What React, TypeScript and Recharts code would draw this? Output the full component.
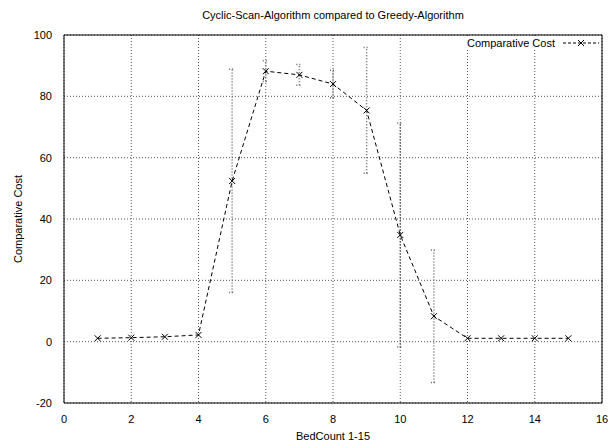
import {
  CartesianGrid,
  ErrorBar,
  Line,
  LineChart,
  ReferenceArea,
  XAxis,
  YAxis,
} from "recharts";

const bedCount = [1, 2, 3, 4, 5, 6, 7, 8, 9, 10, 11, 12, 13, 14, 15];
const comparativeCost = [1.1, 1.3, 1.6, 2.2, 52.4, 88.2, 87.0, 84.0, 75.4, 34.8, 8.3, 1.1, 1.1, 1.1, 1.1];
const costError = [0, 0, 0, 0, 36.4, 3.4, 3.4, 4.5, 20.5, 36.5, 21.6, 0, 0, 0, 0];
const xTicks = [0, 2, 4, 6, 8, 10, 12, 14, 16];
const yTicks = [-20, 0, 20, 40, 60, 80, 100];

const data = bedCount.map((b, i) => ({ bed: b, cost: comparativeCost[i], err: costError[i] }));

const FONT = "'Liberation Sans', Arial, Helvetica, sans-serif";

function Cross(props: any) {
  const { cx, cy } = props;
  if (cx == null || cy == null) return null;
  const s = 3;
  return (
    <g stroke="#000" strokeWidth={1}>
      <line x1={cx - s} y1={cy - s} x2={cx + s} y2={cy + s} />
      <line x1={cx - s} y1={cy + s} x2={cx + s} y2={cy - s} />
    </g>
  );
}

function KeyBox() {
  return (
    <div
      style={{
        position: "absolute",
        top: 37,
        right: 12,
        display: "flex",
        alignItems: "center",
        fontFamily: FONT,
        fontSize: 11,
        color: "#000",
        background: "#fff",
        zIndex: 2,
      }}
    >
      <span>Comparative Cost</span>
      <svg width={36} height={10} style={{ marginLeft: 8 }}>
        <line x1={0} y1={5} x2={36} y2={5} stroke="#000" strokeDasharray="3 2" />
        <line x1={15} y1={2} x2={21} y2={8} stroke="#000" />
        <line x1={15} y1={8} x2={21} y2={2} stroke="#000" />
      </svg>
    </div>
  );
}

export default function App() {
  return (
    <div style={{ position: "absolute", left: 0, top: 0, width: 611, height: 443, background: "#fff" }}>
      <div
        style={{
          position: "absolute",
          top: 9,
          left: 64,
          width: 538,
          textAlign: "center",
          fontFamily: FONT,
          fontSize: 11,
          color: "#000",
        }}
      >
        Cyclic-Scan-Algorithm compared to Greedy-Algorithm
      </div>
      <KeyBox />
      <LineChart
        width={611}
        height={443}
        data={data}
        margin={{ top: 35, right: 9, bottom: 0, left: 0 }}
        style={{ fontFamily: FONT }}
      >
        <CartesianGrid stroke="#555" strokeDasharray="1 2" />
        <XAxis
          dataKey="bed"
          type="number"
          domain={[0, 16]}
          ticks={xTicks}
          height={40}
          axisLine={false}
          tickLine={false}
          tick={{ fill: "#000", fontSize: 11 }}
          tickMargin={6}
          label={{ value: "BedCount 1-15", position: "insideBottom", offset: 3, fill: "#000", fontSize: 11 }}
        />
        <YAxis
          type="number"
          domain={[-20, 100]}
          ticks={yTicks}
          width={64}
          axisLine={false}
          tickLine={false}
          tick={{ fill: "#000", fontSize: 11 }}
          tickMargin={6}
          label={{
            value: "Comparative Cost",
            angle: -90,
            position: "insideLeft",
            offset: 18,
            style: { textAnchor: "middle" },
            fill: "#000",
            fontSize: 11,
          }}
        />
        <ReferenceArea x1={0} x2={16} y1={-20} y2={100} fill="none" stroke="#000" strokeWidth={1} ifOverflow="visible" />
        <Line
          type="linear"
          dataKey="cost"
          stroke="#000"
          strokeWidth={1}
          strokeDasharray="4 3"
          dot={<Cross />}
          activeDot={false}
          isAnimationActive={false}
        >
          <ErrorBar dataKey="err" width={3} stroke="#666" strokeDasharray="1 2" direction="y" />
        </Line>
      </LineChart>
    </div>
  );
}
